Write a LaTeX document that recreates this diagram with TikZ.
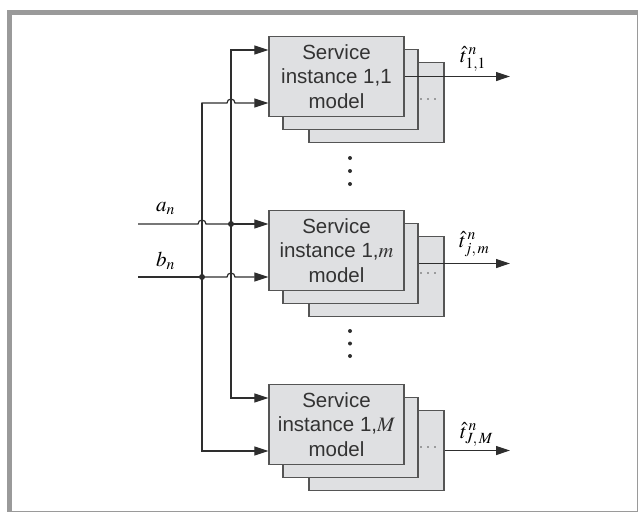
\documentclass[tikz,border=0pt]{standalone}
\usepackage{mathptmx}
\usepackage[no-math]{fontspec}
\newfontfamily\arialish{Liberation Sans}
\usepackage{tikz}
\usetikzlibrary{arrows.meta, calc}
\definecolor{boxfill}{HTML}{DFE0E2}
\definecolor{boxline}{HTML}{555555}
\definecolor{wire}{HTML}{2E2E2E}
\definecolor{frame}{HTML}{9A9A9A}

\begin{document}
\begin{tikzpicture}[x=1pt, y=-1pt,
  inst/.style={draw=boxline, line width=1.3pt, fill=boxfill,
               minimum width=135pt, minimum height=80pt, inner sep=0pt,
               align=center, text=black!80,
               font=\arialish\fontsize{20.5}{24.5}\selectfont},
  ar/.style={-{Triangle[length=14pt,width=9pt]}, wire, line width=1.2pt},
  wireln/.style={wire, line width=1.2pt},
  lbl/.style={inner sep=0pt, anchor=base west, font=\fontsize{21}{23}\selectfont},
]
  \useasboundingbox (0,0) rectangle (638,512);

  % frame with heavy top and left edges
  \fill[frame] (7,10) rectangle (12,511);
  \fill[frame] (7,10) rectangle (637,15);
  \draw[frame, line width=1pt] (7,10) rectangle (637,511);

  % three stacks of instance models
  \foreach \g/\yc/\lab in {1/76.5/1, m/250.5/$m$, M/424.5/$M$} {
    \node[inst] (inst\g-c) at (376.5,\yc+26) {};
    \node[inst] (inst\g-b) at (350.5,\yc+13) {};
    \node[inst] (inst\g) at (336.5,\yc) {Service\\instance 1,\lab\\model};
    \foreach \dx in {-7,0,7}
      \fill[boxline] ($(inst\g-c.center)+(51.5+\dx,-3.5)$) circle (0.9pt);
  }

  % vertical ellipses between the stacks
  \foreach \y in {158,171,184,331,343.5,356}
    \fill[wire] (350,\y) circle (2pt);

  % bus end points
  \coordinate (aIn) at (138,224);
  \coordinate (bIn) at (138,277);
  \coordinate (jA) at (231,224);
  \coordinate (jB) at (202,277);
  \coordinate (aTop) at (231,50);
  \coordinate (aBot) at (231,398);
  \coordinate (bTop) at (202,103);
  \coordinate (bBot) at (202,451);

  % a bus
  \draw[ar] (aBot) -- (aTop) -- (aTop -| inst1.west);
  \draw[ar] (aTop) -- (aBot) -- (aBot -| instM.west);
  \draw[ar] (jA) -- (jA -| instm.west);
  \draw[wireln] (aIn) -- ($(jB |- aIn)+(-4,0)$)
    arc[start angle=180, end angle=0, radius=4pt] -- (jA);

  % b bus
  \draw[ar] (bBot) -- (bTop) -- ($(aTop |- bTop)+(-4,0)$)
    arc[start angle=180, end angle=0, radius=4pt] -- (bTop -| inst1.west);
  \draw[ar] (bTop) -- (bBot) -- (bBot -| instM.west);
  \draw[ar] (jB) -- ($(jA |- jB)+(-4,0)$)
    arc[start angle=180, end angle=0, radius=4pt] -- (jB -| instm.west);
  \draw[wireln] (bIn) -- (jB);

  \fill[wire] (jA) circle (3pt);
  \fill[wire] (jB) circle (3pt);

  % outputs
  \coordinate (t1) at (510,76.5);
  \coordinate (tm) at (510,263.5);
  \coordinate (tM) at (510,450.5);
  \draw[ar] (inst1.east) -- (t1);
  \draw[ar] (instm-b.east) -- (tm);
  \draw[ar] (instM-c.east) -- (tM);

  \node[lbl] (la) at (156,211) {$a_n$};
  \node[lbl] (lb) at (156,266) {$b_n$};
  \node[lbl] (lt1) at (460,62.5) {$\hat{t}^{\,n}_{1,1}$};
  \node[lbl] (ltm) at (459,247.5) {$\hat{t}^{\,n}_{j,\,m}$};
  \node[lbl] (ltM) at (460,438) {$\hat{t}^{\,n}_{J,\,M}$};
\end{tikzpicture}
\end{document}
